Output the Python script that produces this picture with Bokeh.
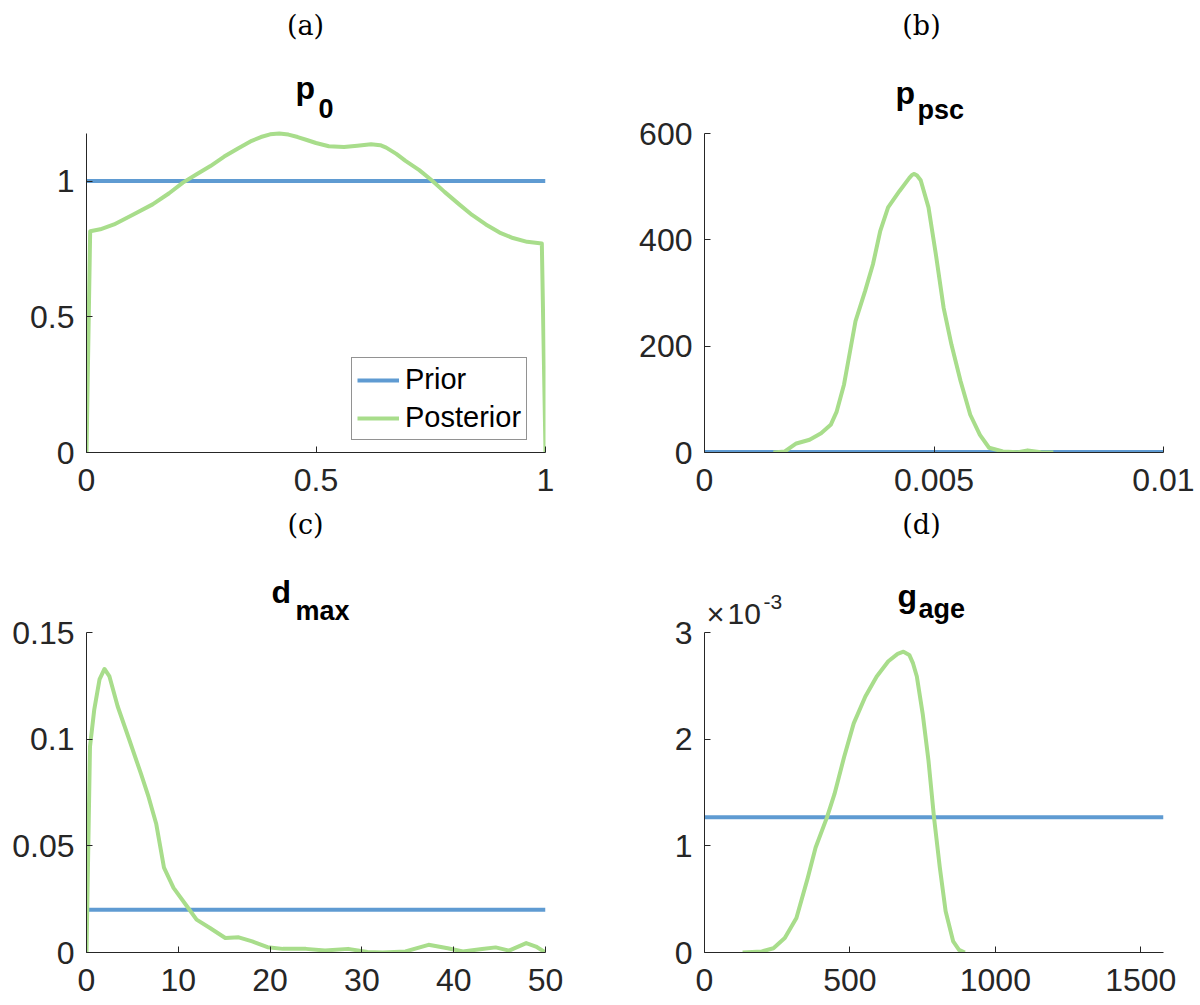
import numpy as np
from bokeh.plotting import figure
from bokeh.layouts import column, row
from bokeh.models import (Label, Legend, LegendItem, FixedTicker,
                          CustomJSTickFormatter, Range1d)
from bokeh.embed import file_html
from bokeh.resources import INLINE

# ---------------- data ----------------
# (a) p_0
a_prior_x = [0.0, 1.0]
a_prior_y = [1.0, 1.0]
a_post_x = [0.0, 0.008, 0.03, 0.06, 0.1, 0.144, 0.18, 0.21, 0.24, 0.27, 0.30,
            0.33, 0.36, 0.38, 0.40, 0.42, 0.44, 0.46, 0.48, 0.50, 0.528, 0.561,
            0.59, 0.62, 0.64, 0.653, 0.675, 0.695, 0.725, 0.754, 0.78, 0.812,
            0.84, 0.87, 0.90, 0.929, 0.96, 0.992, 1.0]
a_post_y = [0.0, 0.815, 0.822, 0.84, 0.875, 0.914, 0.955, 0.994, 1.025, 1.055,
            1.09, 1.12, 1.148, 1.162, 1.172, 1.175, 1.171, 1.162, 1.151, 1.14,
            1.128, 1.125, 1.13, 1.135, 1.132, 1.123, 1.10, 1.074, 1.04, 1.0,
            0.96, 0.914, 0.875, 0.84, 0.81, 0.79, 0.776, 0.77, 0.0]

# (b) p_psc
b_prior_x = [0.0, 0.01]
b_prior_y = [1.0, 1.0]
b_post_x = [0.0015, 0.00175, 0.002, 0.00229, 0.00254, 0.00275, 0.00288,
            0.00304, 0.00317, 0.00329, 0.0035, 0.00367, 0.00383, 0.004,
            0.00425, 0.00446, 0.00452, 0.00457, 0.00463, 0.00471, 0.00488,
            0.00504, 0.00521, 0.00538, 0.00558, 0.00579, 0.006, 0.0062,
            0.0065, 0.00683, 0.00704, 0.00733, 0.0076]
b_post_y = [0, 2, 17, 24, 36, 52, 77, 128, 190, 247, 304, 354, 417, 461, 492,
            516, 522, 524, 521, 512, 461, 373, 272, 203, 134, 71, 33, 9, 2,
            0.6, 4, 0.6, 0]

# (c) d_max
c_prior_x = [0.0, 50.0]
c_prior_y = [0.02, 0.02]
c_post_x = [0, 0.38, 0.84, 1.42, 1.96, 2.5, 3.4, 4.68, 5.93, 6.77, 7.6, 8.44,
            9.48, 10.94, 11.99, 13.45, 15.12, 16.58, 18.05, 19.72, 21.39, 23.9,
            25.98, 28.5, 30.6, 32.25, 34.75, 37.26, 39.35, 41.0, 43.1, 44.57,
            46.03, 47.9, 48.96, 50]
c_post_y = [0, 0.0964, 0.1137, 0.128, 0.1329, 0.1294, 0.1153, 0.0995, 0.0838,
            0.0728, 0.0602, 0.0398, 0.0303, 0.0217, 0.0154, 0.0115, 0.0068,
            0.0071, 0.0052, 0.0025, 0.0017, 0.0017, 0.0009, 0.0017, 0.0002, 0.0,
            0.0005, 0.0036, 0.002, 0.0005, 0.0016, 0.0024, 0.0009, 0.0044,
            0.0028, 0.0]

# (d) g_age
d_prior_x = [0.0, 1578.0]
d_prior_y = [1.267e-3, 1.267e-3]
d_post_x = [131, 197, 237, 276, 316, 355, 382, 421, 447, 480, 513, 553, 592,
            632, 664, 684, 704, 717, 730, 750, 770, 789, 809, 829, 855, 875, 895]
d_post_y = [0.0, 0.01e-3, 0.04e-3, 0.135e-3, 0.324e-3, 0.70e-3, 0.984e-3,
            1.267e-3, 1.487e-3, 1.833e-3, 2.148e-3, 2.4e-3, 2.588e-3, 2.73e-3,
            2.80e-3, 2.82e-3, 2.79e-3, 2.71e-3, 2.588e-3, 2.24e-3, 1.8e-3,
            1.267e-3, 0.796e-3, 0.387e-3, 0.104e-3, 0.025e-3, 0.0]

# axis limits and ticks
a_xlim, a_ylim = (0, 1), (0, max(a_post_y))
b_xlim, b_ylim = (0, 0.01), (0, 600)
c_xlim, c_ylim = (0, 50), (0, 0.15)
d_xlim, d_ylim = (0, 1578), (0, 3e-3)
a_xticks, a_yticks = [0, 0.5, 1], [0, 0.5, 1]
b_xticks, b_yticks = [0, 0.005, 0.01], [0, 200, 400, 600]
c_xticks, c_yticks = [0, 10, 20, 30, 40, 50], [0, 0.05, 0.1, 0.15]
d_xticks, d_yticks = [0, 500, 1000, 1500], [0, 1e-3, 2e-3, 3e-3]

captions = ["(a)", "(b)", "(c)", "(d)"]
titles = [("p", "0"), ("p", "psc"), ("d", "max"), ("g", "age")]
legend_labels = ["Prior", "Posterior"]

# ---------------- style ----------------
BLUE = "#5f9bd2"
GREEN = "#a8dd8b"
AXC = "#262626"
FONT = "Liberation Sans"
SERIF = "DejaVu Serif"
LW = 4
TICK_FS = "32px"

# page geometry (layout origin at top-left of the page)
LEFT_W, RIGHT_W = 608, 590
BOTTOM_BORDER = 52
TOP_H = 504            # top row: frame spans page y 0..452
BOT_H = 500            # bottom row: frame spans page y 504..952


def fmt(scale=1.0):
    return CustomJSTickFormatter(
        code="return String(Number((tick*%r).toPrecision(6)))" % scale)


class Panel:
    """One subplot whose frame also covers the caption/title area above the
    axes; the y axis is bounded to the real data limits."""

    def __init__(self, width, height, left, right, page_x0, page_y0,
                 axes_top_px, xlim, ylim, xt, yt, yscale=1.0):
        self.fl = page_x0 + left                      # frame left (page px)
        self.fb = page_y0 + height - BOTTOM_BORDER    # frame bottom (page px)
        frame_h = height - BOTTOM_BORDER
        data_h = self.fb - axes_top_px
        y_end = ylim[0] + (ylim[1] - ylim[0]) * frame_h / data_h
        p = figure(width=width, height=height, title=None,
                   x_range=Range1d(*xlim), y_range=Range1d(ylim[0], y_end),
                   output_backend="svg", toolbar_location=None,
                   min_border_left=left, min_border_right=right,
                   min_border_top=0, min_border_bottom=BOTTOM_BORDER)
        p.outline_line_color = None
        p.grid.visible = False
        p.background_fill_color = "white"
        p.border_fill_color = "white"
        for ax in (p.xaxis[0], p.yaxis[0]):
            ax.axis_line_color = AXC
            ax.axis_line_width = 1
            ax.major_tick_line_color = AXC
            ax.major_tick_in = 6
            ax.major_tick_out = 0
            ax.minor_tick_line_color = None
            ax.major_label_text_font = FONT
            ax.major_label_text_font_size = TICK_FS
            ax.major_label_text_color = AXC
        p.yaxis[0].bounds = ylim
        p.xaxis[0].major_label_standoff = 16
        p.yaxis[0].major_label_standoff = 12
        p.xaxis[0].ticker = FixedTicker(ticks=xt)
        p.yaxis[0].ticker = FixedTicker(ticks=yt)
        p.xaxis[0].formatter = fmt(1.0)
        p.yaxis[0].formatter = fmt(yscale)
        self.p = p

    def put(self, xp, yp, text, size, font=FONT, bold=False, align="left",
            baseline="alphabetic", color="black"):
        # xp, yp: page coordinates (yp = wanted baseline / centre)
        corr = 0.27 * size if baseline == "alphabetic" else 2
        self.p.add_layout(Label(x=xp - self.fl, y=self.fb - yp + corr,
                                x_units="screen", y_units="screen", text=text,
                                text_font=font, text_font_size="%dpx" % size,
                                text_font_style="bold" if bold else "normal",
                                text_align=align, text_baseline=baseline,
                                text_color=color))

    def head(self, idx, cap_x, cap_y, tx, ty, sx, sy):
        main, sub = titles[idx]
        self.put(cap_x, cap_y, captions[idx], 27, font=SERIF, align="center",
                 baseline="middle")
        self.put(tx, ty, main, 32, bold=True)
        self.put(sx, sy, sub, 27, bold=True)


# ---------------- panel (a) ----------------
A = Panel(LEFT_W, TOP_H, 86, 63, 0, 0, 133, a_xlim, a_ylim, a_xticks, a_yticks)
ra1 = A.p.line(a_prior_x, a_prior_y, line_color=BLUE, line_width=LW)
ra2 = A.p.line(a_post_x, a_post_y, line_color=GREEN, line_width=LW,
               line_join="round")
leg = Legend(items=[LegendItem(label=legend_labels[0], renderers=[ra1]),
                    LegendItem(label=legend_labels[1], renderers=[ra2])],
             location=(265, 12))
leg.border_line_color = AXC
leg.border_line_width = 1
leg.background_fill_color = "white"
leg.background_fill_alpha = 1
leg.label_text_font = FONT
leg.label_text_font_size = "29px"
leg.label_text_color = "black"
leg.glyph_width = 42
leg.glyph_height = 28
leg.label_standoff = 6
leg.padding = 5
leg.spacing = 5
leg.margin = 0
A.p.add_layout(leg)
A.head(0, 305, 27, 295, 96, 318, 115)

# ---------------- panel (b) ----------------
B = Panel(RIGHT_W, TOP_H, 96, 35, LEFT_W, 0, 133, b_xlim, b_ylim,
          b_xticks, b_yticks)
B.p.line(b_prior_x, b_prior_y, line_color=BLUE, line_width=LW)
B.p.line(b_post_x, b_post_y, line_color=GREEN, line_width=LW, line_join="round")
B.head(1, 921, 27, 895, 101, 917, 117)

# ---------------- panel (c) ----------------
C = Panel(LEFT_W, BOT_H, 86, 63, 0, TOP_H, 632, c_xlim, c_ylim,
          c_xticks, c_yticks)
C.p.line(c_prior_x, c_prior_y, line_color=BLUE, line_width=LW)
C.p.line(c_post_x, c_post_y, line_color=GREEN, line_width=LW, line_join="round")
C.head(2, 305, 526, 271, 600, 295, 618)

# ---------------- panel (d) ----------------
D = Panel(RIGHT_W, BOT_H, 96, 35, LEFT_W, TOP_H, 632, d_xlim, d_ylim,
          d_xticks, d_yticks, yscale=1000.0)
D.p.line(d_prior_x, d_prior_y, line_color=BLUE, line_width=LW)
D.p.line(d_post_x, d_post_y, line_color=GREEN, line_width=LW, line_join="round")
D.head(3, 921, 526, 897, 604, 918, 616)
D.put(706, 622, "\u00d7", 31, color=AXC)
D.put(727, 622, "10", 30, color=AXC)
D.put(763, 607, "-3", 21, color=AXC)

layout = column(row(A.p, B.p), row(C.p, D.p))
open("out.html", "w").write(file_html(layout, INLINE))
